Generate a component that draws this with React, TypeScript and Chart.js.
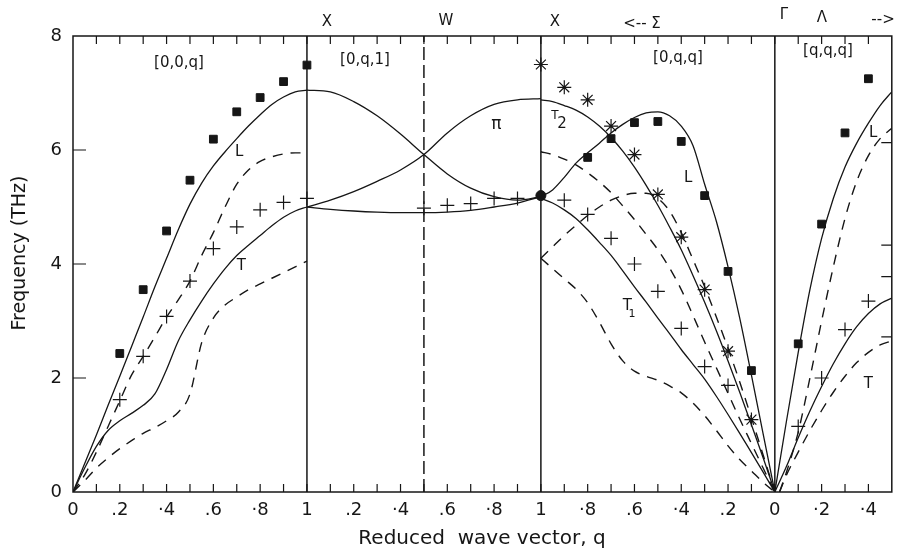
import React, { useEffect, useRef } from "react";
import { Chart, registerables } from "chart.js";
Chart.register(...registerables);

const INK = "#161616";
const FONT = "'DejaVu Sans', sans-serif";

// ---------- Panel 1  [0,0,q]  (path 0 -> 1) ----------
const p1Path = [0, 0.05, 0.1, 0.15, 0.2, 0.25, 0.3, 0.35, 0.4, 0.45, 0.5, 0.55, 0.6, 0.65, 0.7, 0.75, 0.8, 0.85, 0.9, 0.95, 1.0];
const p1LSolid = [0, 0.5, 1.0, 1.52, 2.03, 2.55, 3.07, 3.6, 4.1, 4.6, 5.05, 5.42, 5.72, 5.97, 6.2, 6.42, 6.62, 6.8, 6.93, 7.02, 7.05];
const p1LDash = [0, 0.3, 0.7, 1.15, 1.6, 2.05, 2.38, 2.72, 3.07, 3.37, 3.7, 4.15, 4.55, 5.0, 5.4, 5.65, 5.8, 5.88, 5.93, 5.95, 5.95];
const p1TSolid = [0, 0.42, 0.8, 1.08, 1.25, 1.38, 1.52, 1.72, 2.15, 2.65, 3.02, 3.35, 3.65, 3.92, 4.15, 4.33, 4.5, 4.67, 4.82, 4.93, 5.0];
const p1TDash = [0, 0.2, 0.42, 0.6, 0.76, 0.9, 1.03, 1.13, 1.25, 1.4, 1.72, 2.62, 3.05, 3.28, 3.42, 3.55, 3.65, 3.75, 3.85, 3.95, 4.05];

// ---------- Panel 2  [0,q,1]  X (1) -> W (1.5) -> X (2) ----------
const p2Path = [1.0, 1.1, 1.2, 1.3, 1.4, 1.5, 1.6, 1.7, 1.8, 1.9, 2.0];
const p2Falling = [7.05, 7.02, 6.85, 6.6, 6.28, 5.92, 5.58, 5.33, 5.18, 5.12, 5.18];
const p2Rising = [5.0, 5.12, 5.27, 5.45, 5.65, 5.92, 6.3, 6.6, 6.8, 6.88, 6.9];
const p2Flat = [5.0, 4.96, 4.93, 4.91, 4.9, 4.9, 4.91, 4.94, 5.0, 5.07, 5.18];

// ---------- Panel 3  [0,q,q]  X (2) -> Gamma (3) ----------
const p3Path = [2.0, 2.05, 2.1, 2.15, 2.2, 2.25, 2.3, 2.35, 2.4, 2.45, 2.5, 2.55, 2.6, 2.65, 2.7, 2.75, 2.8, 2.85, 2.9, 2.95, 3.0];
const p3LSolid = [5.18, 5.3, 5.52, 5.77, 5.95, 6.12, 6.3, 6.45, 6.57, 6.65, 6.67, 6.6, 6.42, 6.08, 5.4, 4.75, 3.95, 3.05, 2.05, 1.02, 0];
const p3T2Solid = [6.88, 6.85, 6.78, 6.7, 6.58, 6.42, 6.22, 5.98, 5.7, 5.38, 5.03, 4.65, 4.25, 3.8, 3.33, 2.83, 2.3, 1.75, 1.18, 0.6, 0];
const p3T1Solid = [5.15, 5.07, 4.95, 4.8, 4.6, 4.38, 4.15, 3.88, 3.6, 3.33, 3.05, 2.78, 2.5, 2.24, 1.98, 1.68, 1.36, 1.03, 0.69, 0.35, 0];
const p3DashUpper = [5.97, 5.92, 5.84, 5.74, 5.6, 5.44, 5.25, 5.02, 4.78, 4.52, 4.25, 3.93, 3.55, 3.1, 2.63, 2.18, 1.73, 1.28, 0.85, 0.42, 0];
const p3DashMid = [4.1, 4.3, 4.5, 4.68, 4.85, 5.0, 5.12, 5.2, 5.24, 5.24, 5.15, 4.93, 4.55, 4.08, 3.6, 3.07, 2.52, 1.93, 1.3, 0.65, 0];
const p3DashLower = [4.1, 3.92, 3.74, 3.56, 3.32, 2.98, 2.6, 2.3, 2.12, 2.03, 1.96, 1.86, 1.74, 1.56, 1.34, 1.08, 0.81, 0.57, 0.37, 0.17, 0];

// ---------- Panel 4  [q,q,q]  Gamma (3) -> (3.5) ----------
const p4Path = [3.0, 3.05, 3.1, 3.15, 3.2, 3.25, 3.3, 3.35, 3.4, 3.45, 3.5];
const p4LSolid = [0, 1.25, 2.45, 3.55, 4.45, 5.15, 5.7, 6.12, 6.47, 6.78, 7.02];
const p4TSolid = [0, 0.45, 0.95, 1.42, 1.85, 2.25, 2.6, 2.9, 3.13, 3.3, 3.4];
const p4DashPath = [3.02, 3.05, 3.1, 3.15, 3.2, 3.25, 3.3, 3.35, 3.4, 3.45, 3.5];
const p4LDash = [0, 0.35, 1.05, 2.0, 3.0, 3.95, 4.8, 5.45, 5.9, 6.2, 6.38];
const p4TDash = [0, 0.3, 0.7, 1.08, 1.43, 1.75, 2.03, 2.27, 2.45, 2.58, 2.65];

// ---------- Experimental points ----------
const squarePath = [0.2, 0.3, 0.4, 0.5, 0.6, 0.7, 0.8, 0.9, 1.0, 2.2, 2.3, 2.4, 2.5, 2.6, 2.7, 2.8, 2.9, 3.1, 3.2, 3.3, 3.4];
const squareFreq = [2.43, 3.55, 4.58, 5.47, 6.19, 6.67, 6.92, 7.2, 7.49, 5.87, 6.2, 6.48, 6.5, 6.15, 5.2, 3.87, 2.13, 2.6, 4.7, 6.3, 7.25];
const plusPath = [0.2, 0.3, 0.4, 0.5, 0.6, 0.7, 0.8, 0.9, 1.0, 1.5, 1.6, 1.7, 1.8, 1.9, 2.1, 2.2, 2.3, 2.4, 2.5, 2.6, 2.7, 2.8, 3.1, 3.2, 3.3, 3.4];
const plusFreq = [1.62, 2.38, 3.08, 3.7, 4.27, 4.65, 4.95, 5.08, 5.15, 4.98, 5.03, 5.06, 5.15, 5.15, 5.12, 4.87, 4.45, 4.0, 3.52, 2.87, 2.2, 1.87, 1.15, 2.0, 2.85, 3.35];
const starPath = [2.0, 2.1, 2.2, 2.3, 2.4, 2.5, 2.6, 2.7, 2.8, 2.9];
const starFreq = [7.5, 7.1, 6.88, 6.42, 5.92, 5.22, 4.47, 3.55, 2.47, 1.27];
const dotPath = [2.0];
const dotFreq = [5.2];
const edgePath = [3.485, 3.485, 3.485, 3.485];
const edgeFreq = [6.13, 4.33, 3.78, 2.72];

// ---------- Axes ----------
const xLabelPos = [0, 0.2, 0.4, 0.6, 0.8, 1.0, 1.2, 1.4, 1.6, 1.8, 2.0, 2.2, 2.4, 2.6, 2.8, 3.0, 3.2, 3.4];
const xLabelText = ["0", ".2", "·4", ".6", "·8", "1", ".2", "·4", ".6", "·8", "1", "·8", ".6", "·4", ".2", "0", "·2", "·4"];
const yTicks = [0, 2, 4, 6, 8];
const panelBounds = [1, 2, 3];
const wPosition = 1.5;

const pts = (xs: number[], ys: number[]) => xs.map((x, i) => ({ x, y: ys[i] }));

const curve = (xs: number[], ys: number[], dashed: boolean) => ({
  type: "line" as const,
  data: pts(xs, ys),
  borderColor: INK,
  borderWidth: dashed ? 1.4 : 1.3,
  borderDash: dashed ? [10, 8] : [],
  pointRadius: 0,
  cubicInterpolationMode: "monotone" as const,
  fill: false,
});

const vline = (x: number, dash: number[]) => ({
  type: "line" as const,
  data: [{ x, y: 0 }, { x, y: 8 }],
  borderColor: INK,
  borderWidth: 1.5,
  borderDash: dash,
  pointRadius: 0,
  tension: 0,
  fill: false,
});

const marks = (xs: number[], ys: number[], style: string, radius: number, filled: boolean, bw: number) => ({
  type: "scatter" as const,
  data: pts(xs, ys),
  pointStyle: style,
  pointRadius: radius,
  pointBackgroundColor: filled ? INK : "rgba(0,0,0,0)",
  pointBorderColor: INK,
  pointBorderWidth: bw,
  showLine: false,
});

const decor = {
  id: "decor",
  afterDraw(chart: any) {
    const { ctx, chartArea, scales } = chart;
    const { left, right, top, bottom } = chartArea;
    const xs = scales.x;
    const ys = scales.y;
    ctx.save();
    ctx.strokeStyle = INK;
    ctx.lineWidth = 1.5;
    ctx.strokeRect(left, top, right - left, bottom - top);
    ctx.lineWidth = 1.2;
    ctx.beginPath();
    for (let i = 1; i < 35; i++) {
      const px = xs.getPixelForValue(i / 10);
      ctx.moveTo(px, bottom);
      ctx.lineTo(px, bottom - 8);
      ctx.moveTo(px, top);
      ctx.lineTo(px, top + 8);
    }
    yTicks.slice(1, 4).forEach((v) => {
      const py = ys.getPixelForValue(v);
      ctx.moveTo(left, py);
      ctx.lineTo(left + 13, py);
    });
    ctx.stroke();

    ctx.fillStyle = INK;
    ctx.textAlign = "center";
    ctx.textBaseline = "middle";
    const txt = (s: string, x: number, y: number, size: number) => {
      ctx.font = `${size}px ${FONT}`;
      ctx.fillText(s, x, y);
    };
    const X = (v: number) => xs.getPixelForValue(v);
    const Y = (v: number) => ys.getPixelForValue(v);

    // axis titles
    txt("Reduced  wave vector, q", 482, 539, 20);
    ctx.save();
    ctx.translate(20, 253);
    ctx.rotate(-Math.PI / 2);
    txt("Frequency (THz)", 0, 0, 19);
    ctx.restore();

    // top symmetry labels
    txt("X", X(1) + 20, 22, 15);
    txt("W", X(1.5) + 22, 21, 15);
    txt("X", X(2) + 14, 22, 15);
    txt("<-- Σ", 642, 24, 15);
    txt("Γ", X(3) + 9, 15, 15);
    txt("Λ", 822, 18, 15);
    txt("-->", 883, 20, 15);

    // panel labels
    txt("[0,0,q]", 179, 63, 15);
    txt("[0,q,1]", 365, 60, 15);
    txt("[0,q,q]", 678, 58, 15);
    txt("[q,q,q]", 828, 51, 15);

    // branch labels
    txt("L", X(0.71), Y(5.97), 15);
    txt("T", X(0.72), Y(3.97), 15);
    txt("π", X(1.81), Y(6.45), 17);
    txt("T", X(2.06), Y(6.6), 12);
    txt("2", X(2.09), Y(6.45), 15);
    txt("L", X(2.63), Y(5.5), 15);
    txt("T", X(2.37), Y(3.27), 15);
    txt("1", X(2.39), Y(3.12), 11);
    txt("L", X(3.42), Y(6.3), 15);
    txt("T", X(3.4), Y(1.9), 15);
    ctx.restore();
  },
};

export default function App() {
  const ref = useRef<HTMLCanvasElement | null>(null);
  useEffect(() => {
    document.body.style.margin = "0";
    const canvas = ref.current;
    if (!canvas) return;
    const chart = new Chart(canvas, {
      type: "line",
      data: {
        datasets: [
          vline(panelBounds[0], []),
          vline(panelBounds[1], []),
          vline(panelBounds[2], []),
          vline(wPosition, [13, 5]),
          curve(p1Path, p1LSolid, false),
          curve(p1Path, p1LDash, true),
          curve(p1Path, p1TSolid, false),
          curve(p1Path, p1TDash, true),
          curve(p2Path, p2Falling, false),
          curve(p2Path, p2Rising, false),
          curve(p2Path, p2Flat, false),
          curve(p3Path, p3LSolid, false),
          curve(p3Path, p3T2Solid, false),
          curve(p3Path, p3T1Solid, false),
          curve(p3Path, p3DashUpper, true),
          curve(p3Path, p3DashMid, true),
          curve(p3Path, p3DashLower, true),
          curve(p4Path, p4LSolid, false),
          curve(p4Path, p4TSolid, false),
          curve(p4DashPath, p4LDash, true),
          curve(p4DashPath, p4TDash, true),
          marks(squarePath, squareFreq, "rect", 5.5, true, 1),
          marks(plusPath, plusFreq, "cross", 7, false, 1.2),
          marks(starPath, starFreq, "star", 7, false, 1.2),
          marks(dotPath, dotFreq, "circle", 5, true, 1),
          marks(edgePath, edgeFreq, "line", 7, false, 1.2),
        ] as any,
      },
      options: {
        responsive: false,
        animation: false,
        events: [],
        layout: { padding: { top: 36, right: 4, left: 0, bottom: 0 } },
        plugins: { legend: { display: false }, tooltip: { enabled: false }, title: { display: false } },
        scales: {
          x: {
            type: "linear",
            min: 0,
            max: 3.5,
            grid: { display: false, drawTicks: false },
            border: { display: false },
            afterFit: (s: any) => { s.height = 64; },
            afterBuildTicks: (s: any) => { s.ticks = xLabelPos.map((v) => ({ value: v })); },
            ticks: {
              autoSkip: false,
              maxRotation: 0,
              padding: 8,
              color: INK,
              font: { family: FONT, size: 18 },
              callback: (_v: any, i: number) => xLabelText[i],
            },
          },
          y: {
            type: "linear",
            min: 0,
            max: 8,
            grid: { display: false, drawTicks: false },
            border: { display: false },
            afterFit: (s: any) => { s.width = 73; },
            afterBuildTicks: (s: any) => { s.ticks = yTicks.map((v) => ({ value: v })); },
            ticks: {
              padding: 11,
              color: INK,
              font: { family: FONT, size: 18 },
              callback: (v: any) => String(v),
            },
          },
        },
      } as any,
      plugins: [decor],
    });
    return () => chart.destroy();
  }, []);
  return <canvas ref={ref} width={900} height={556} style={{ display: "block", width: 900, height: 556 }} />;
}
